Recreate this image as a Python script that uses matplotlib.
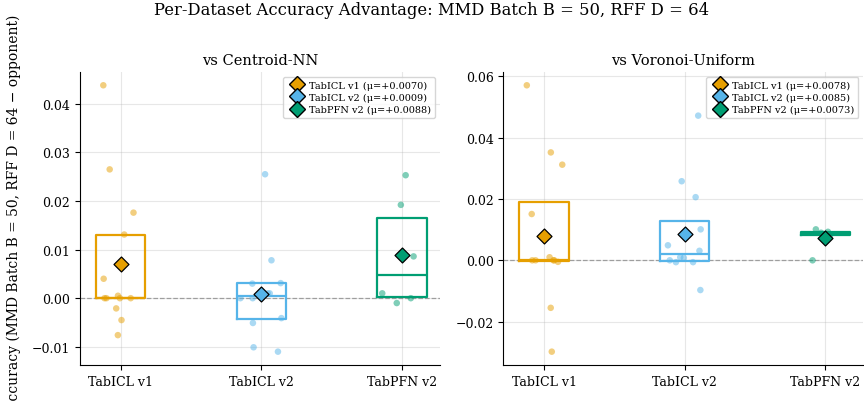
import numpy as np
import matplotlib
matplotlib.use("Agg")
import matplotlib.pyplot as plt
from matplotlib.lines import Line2D

plt.rcParams['font.family'] = ['DejaVu Serif']

models = ["TabICL v1", "TabICL v2", "TabPFN v2"]
colors = ["#E69F00", "#56B4E9", "#009E73"]

# per-dataset accuracy differences (MMD - opponent)
centroid_icl1 = [0.0438, 0.0265, 0.0176, 0.0131, 0.0040, 0.0005, 0.0, 0.0, 0.0, 0.0,
                 -0.0021, -0.0045, -0.0076]
centroid_icl2 = [0.0255, 0.0078, 0.0031, 0.0030, 0.0010, 0.0010, 0.0, 0.0,
                 -0.0041, -0.0051, -0.0101, -0.0110]
centroid_pfn2 = [0.0253, 0.0192, 0.0086, 0.0010, 0.0, -0.0010]

voronoi_icl1 = [0.0571, 0.0352, 0.0312, 0.0151, 0.0010, 0.0, 0.0, 0.0, 0.0,
                -0.0005, -0.0155, -0.0298]
voronoi_icl2 = [0.0472, 0.0258, 0.0206, 0.0101, 0.0049, 0.0031, 0.0010, 0.0008,
                0.0, -0.0006, -0.0006, -0.0097]
voronoi_pfn2 = [0.0101, 0.0093, 0.0090, 0.0082, 0.0]

panels = [
    ("vs Centroid-NN", [centroid_icl1, centroid_icl2, centroid_pfn2]),
    ("vs Voronoi-Uniform", [voronoi_icl1, voronoi_icl2, voronoi_pfn2]),
]

fig = plt.figure(figsize=(8.64, 4.02), dpi=100)
ax1 = fig.add_axes([0.0926, 0.0896, 0.4167, 0.7289])
ax2 = fig.add_axes([0.5825, 0.0896, 0.4167, 0.7289])

rng = np.random.default_rng(3)

for ax, (title, groups) in zip([ax1, ax2], panels):
    handles = []
    for i, (vals, c, name) in enumerate(zip(groups, colors, models)):
        vals = np.array(vals)
        jit = rng.uniform(-0.15, 0.15, len(vals))
        ax.scatter(i + jit, vals, s=22, color=c, alpha=0.5, edgecolor="none", zorder=2)
        ax.boxplot([vals], positions=[i], widths=0.35, showfliers=False,
                   whis=0, showcaps=False,
                   boxprops=dict(color=c, linewidth=1.6),
                   medianprops=dict(color=c, linewidth=1.6),
                   whiskerprops=dict(visible=False),
                   manage_ticks=False)
        m = vals.mean()
        ax.scatter([i], [m], marker="D", s=58, color=c, edgecolor="black",
                   linewidth=0.9, zorder=5)
        handles.append(Line2D([], [], marker="D", linestyle="none", markersize=8.5,
                              markerfacecolor=c, markeredgecolor="black",
                              label=f"{name} (μ={m:+.4f})"))
    ax.axhline(0, color="gray", linestyle="--", linewidth=0.9, alpha=0.7, zorder=1)
    ax.set_xticks(range(3))
    ax.set_xticklabels(models, fontsize=9)
    ax.tick_params(axis="y", labelsize=9)
    ax.set_xlim(-0.29, 2.27)
    ax.set_title(title, fontsize=10.5)
    ax.grid(True, alpha=0.3)
    ax.set_axisbelow(True)
    ax.spines["top"].set_visible(False)
    ax.spines["right"].set_visible(False)
    ax.legend(handles=handles, loc="upper right", fontsize=7, handletextpad=0.3,
              borderpad=0.4, labelspacing=0.3)

ax1.set_ylabel("Δ Accuracy (MMD Batch B = 50, RFF D = 64 − opponent)", fontsize=10)
ax1.yaxis.set_label_coords(-0.165, 0.5)
fig.suptitle("Per-Dataset Accuracy Advantage: MMD Batch B = 50, RFF D = 64",
             fontsize=11.8, y=0.995)

fig.savefig("out.png", dpi=100)
